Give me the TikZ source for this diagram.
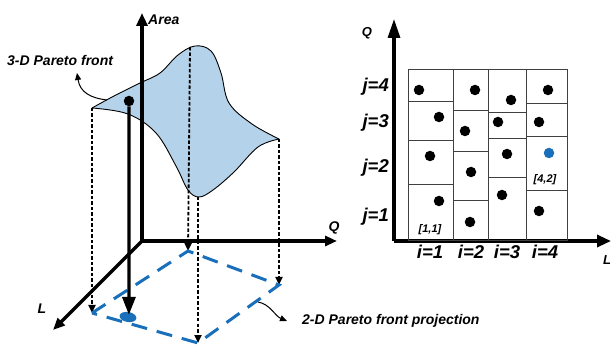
\documentclass[tikz,border=0pt]{standalone}
\usepackage{fontspec}
\setmainfont{Liberation Sans}
\usetikzlibrary{arrows.meta,shapes.geometric}
\definecolor{surf}{HTML}{B4D2E9}
\definecolor{pblue}{HTML}{1A6FBA}
\begin{document}
\begin{tikzpicture}[x=1pt,y=-1pt,
  lbl/.style={font=\fontsize{14}{16}\selectfont\bfseries\itshape, inner sep=0pt},
  big/.style={font=\fontsize{18.5}{20}\selectfont\bfseries\itshape, inner sep=0pt},
  small/.style={font=\fontsize{11}{12}\selectfont\bfseries\itshape, inner sep=0pt},
  proj/.style={line width=1.8pt, dash pattern=on 3.5pt off 2pt, -{Triangle[length=8pt,width=7pt]}},
  blk/.style={circle, fill=black, inner sep=0pt, minimum size=10.5pt},
  grid/.style={draw=black!75, line width=1pt},
  bluedash/.style={draw=pblue, line width=3pt, dash pattern=on 16pt off 10pt},
  thin/.style={line width=1pt, -{Triangle[length=7pt,width=6pt]}},
  ax/.style={line width=3.2pt}
]
\useasboundingbox (0,0) rectangle (613,347);

% ---------- left 3-D part ----------
\coordinate (O) at (142,241);
\coordinate (tipL) at (92,108);
\coordinate (peak) at (190,47);
\coordinate (tipR) at (279,139);
\coordinate (bot) at (198,197);
\coordinate (qL) at (92,313);
\coordinate (qT) at (188,251);
\coordinate (qR) at (279,285);
\coordinate (qB) at (198,343);

% surface
\fill[surf] plot[smooth,tension=0.6] coordinates {(92,108) (114,96) (140,83) (160,73) (178,55) (195,46) (211,51) (221,73) (229,103) (252,124) (279,139)}
  -- plot[smooth,tension=0.6] coordinates {(279,139) (258,147) (234,172) (213,190) (199,197) (188,190) (176,166) (156,133) (128,114) (92,108)} -- cycle;
\draw[line width=0.9pt] plot[smooth,tension=0.6] coordinates {(92,108) (114,96) (140,83) (160,73) (178,55) (195,46) (211,51) (221,73) (229,103) (252,124) (279,139)};
\draw[line width=0.9pt] plot[smooth,tension=0.6] coordinates {(279,139) (258,147) (234,172) (213,190) (199,197) (188,190) (176,166) (156,133) (128,114) (92,108)};

% axes
\coordinate (aArea) at (142,13);
\coordinate (aQ) at (337,241);
\coordinate (aL) at (53,330);
\draw[ax, -{Triangle[length=13pt,width=11pt]}] (O) -- (aArea);
\draw[ax, -{Triangle[length=12pt,width=10pt]}] (O) -- (aQ);
\draw[ax, -{Triangle[length=12pt,width=10pt]}] (O) -- (aL);
\node[lbl, anchor=west] (area) at (148,20) {Area};
\node[lbl] (Qlab) at (334,228) {Q};
\node[lbl] (Llab) at (42,309) {L};

% projection lines
\draw[proj] (tipL) -- (qL);
\draw[proj] (peak) -- (qT);
\draw[proj] (tipR) -- (qR);
\draw[proj] (bot) -- (qB);

% blue dashed quadrilateral
\draw[bluedash] (qL) -- (qT) -- (qR) -- (qB) -- cycle;

% point and its projection
\node[blk] (pt) at (129,101) {};
\node[ellipse, fill=pblue, minimum width=17pt, minimum height=10pt, inner sep=0pt, rotate=-10] (ppt) at (128,317) {};
\draw[ax, -{Triangle[length=18pt,width=13pt]}] (pt.south) -- ([yshift=-3pt]ppt.north);

% labels left
\node[lbl, anchor=west] (l3d) at (7,60) {3-D Pareto front};
\coordinate (c3a) at (107,100);
\coordinate (c3b) at (77,73);
\draw[thin] (c3a) .. controls (90,98) and (80,92) .. (c3b);
\node[lbl, anchor=west] (l2d) at (302,321) {2-D Pareto front projection};
\coordinate (c2a) at (258,302);
\coordinate (c2b) at (287,321);
\draw[thin] (c2a) .. controls (270,304) and (275,316) .. (c2b);

% ---------- right grid part ----------
\coordinate (O2) at (394,241);
\coordinate (aQ2) at (394,19);
\coordinate (aL2) at (611,241);
\draw[ax, -{Triangle[length=19pt,width=12pt]}] (O2) -- (aQ2);
\draw[ax, -{Triangle[length=14pt,width=12pt]}] (O2) -- (aL2);
\node[lbl, font=\fontsize{13}{14}\selectfont\bfseries\itshape] (Q2) at (367,33) {Q};
\node[lbl, font=\fontsize{13}{14}\selectfont\bfseries\itshape] (L2) at (607,260) {L};

% columns
\draw[grid] (408,70) rectangle (453,241);
\draw[grid] (453,70) rectangle (488,241);
\draw[grid] (488,70) rectangle (526,241);
\draw[grid] (526,70) rectangle (567,241);
\draw[grid] (408,102) -- (453,102) (408,141) -- (453,141) (408,185) -- (453,185);
\draw[grid] (453,111) -- (488,111) (453,152) -- (488,152) (453,201) -- (488,201);
\draw[grid] (488,113) -- (526,113) (488,139) -- (526,139) (488,178) -- (526,178);
\draw[grid] (526,104) -- (567,104) (526,137) -- (567,137) (526,191) -- (567,191);

% dots
\node[blk] (d11) at (439,201) {};
\node[blk] (d12) at (430,156) {};
\node[blk] (d13) at (439,117) {};
\node[blk] (d14) at (419,90) {};
\node[blk] (d21) at (470,222) {};
\node[blk] (d22) at (471,172) {};
\node[blk] (d23) at (465,131) {};
\node[blk] (d24) at (475,90) {};
\node[blk] (d31) at (502,195) {};
\node[blk] (d32) at (507,154) {};
\node[blk] (d33) at (498,122) {};
\node[blk] (d34) at (511,100) {};
\node[blk] (d41) at (539,211) {};
\node[blk, fill=pblue] (d42) at (549,153) {};
\node[blk] (d43) at (539,122) {};
\node[blk] (d44) at (548,90) {};

\node[small] (c11) at (430,230) {[1,1]};
\node[small] (c42) at (545,180) {[4,2]};

\node[big, anchor=east] (j4) at (389,87) {j=4};
\node[big, anchor=east] (j3) at (389,123) {j=3};
\node[big, anchor=east] (j2) at (389,168) {j=2};
\node[big, anchor=east] (j1) at (389,217) {j=1};
\node[big] (i1) at (430,252) {i=1};
\node[big] (i2) at (471,252) {i=2};
\node[big] (i3) at (507,252) {i=3};
\node[big] (i4) at (545,252) {i=4};
\end{tikzpicture}
\end{document}
